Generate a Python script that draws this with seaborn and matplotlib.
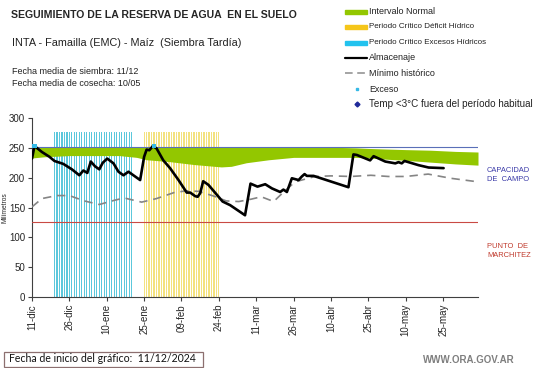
import numpy as np
import matplotlib
matplotlib.use('Agg')
import matplotlib.pyplot as plt
import seaborn as sns
from matplotlib.patches import Rectangle
from matplotlib.lines import Line2D

# days counted from 11-dic-2024
alm_day = [0, 1, 4, 7, 9, 12.6, 16, 19, 20.6, 22.2, 23.6, 25.3, 27, 28.4, 30.2, 32.7,
           34.7, 36.7, 38.7, 40.7, 43.4, 45, 46, 47.1, 48.5, 50, 52.7, 55.4, 58.8,
           62.1, 63.5, 65.5, 66.5, 67.5, 68.7, 70.8, 76.5, 79.5, 85.5, 87.7, 90.5,
           93.6, 96.3, 99.6, 100.9, 102.3, 104.3, 107, 108.3, 109.4, 110.3, 113,
           127, 129, 130.4, 135.7, 137.1, 141.8, 145.8, 147.1, 148.4, 149.5, 155.1,
           159.2, 165.2]
alm_mm = [232, 253, 243, 235, 228, 223, 214, 204, 212, 208, 227, 219, 214, 225, 232, 224,
          210, 204, 210, 204, 196, 235, 247, 246, 253, 249, 229, 216, 196,
          175, 175, 169, 168, 174, 194, 188, 160, 154, 137, 190, 185,
          189, 182, 176, 180, 176, 199, 196, 202, 206, 203, 203,
          184, 239, 238, 229, 236, 227, 224, 226, 224, 228, 221,
          217, 216]

min_day = [0, 4, 10, 15, 21, 27, 33, 37, 41, 44, 50, 57, 62, 67, 73, 78, 83, 88, 92,
           97, 101, 105.6, 113.6, 120, 128, 136, 143, 150, 159, 168, 179]
min_mm = [151, 165, 170, 170, 161, 155, 162, 166, 162, 159, 165, 175, 178, 177, 169, 161,
          160, 164, 168, 160, 176, 193, 202, 203, 202, 204, 202, 202, 206, 199, 193]

band_day = [0, 5, 15, 35, 42, 46, 55, 65, 76, 80, 86, 95, 105, 110, 120, 130, 135, 142,
            150, 160, 170, 179]
band_low = [233, 235, 237, 237, 234, 230, 227, 222, 218, 219, 225, 230, 234, 234, 234,
            234, 233, 231, 229, 226, 223, 221]
band_high = [252, 252, 252, 252, 252, 252, 252, 252, 252, 252, 252, 252, 252, 252, 251,
             250, 249, 248, 247, 246, 244, 243]

exceso_day = [1, 49]
exceso_mm = [253, 253]

blue_period = (9, 40)
yellow_period = (45, 75)
period_top = 276
capacidad = 252
marchitez = 125

tick_days = list(range(0, 166, 15))
tick_labels = ['11-dic', '26-dic', '10-ene', '25-ene', '09-feb', '24-feb', '11-mar',
               '26-mar', '10-abr', '25-abr', '10-may', '25-may']

legend_labels = ['Intervalo Normal', 'Periodo Crítico Déficit Hídrico',
                 'Periodo Crítico Excesos Hídricos', 'Almacenaje', 'Mínimo histórico',
                 'Exceso', 'Temp <3°C fuera del período habitual']
legend_sizes = [6.5, 5.8, 5.8, 6.5, 6.5, 6.4, 7.1]

GREEN = '#93c700'
sns.set_style('ticks')
plt.rcParams['font.family'] = ['Liberation Sans', 'DejaVu Sans']

W, H = 541, 368
fig = plt.figure(figsize=(W / 100, H / 100), dpi=100)
ax = fig.add_axes([32 / W, 71 / H, 446 / W, 179 / H])


def fx(x):
    return x / W


def fy(y):
    return 1 - y / H


# critical periods as daily stripes
bd = np.arange(blue_period[0], blue_period[1] + 1)
ax.bar(bd, [period_top] * len(bd), width=0.5, color='#5cc8dc', lw=0, zorder=1)
yd = np.arange(yellow_period[0], yellow_period[1] + 1)
ax.bar(yd, [period_top] * len(yd), width=0.5, color='#f3e27f', lw=0, zorder=1)

ax.fill_between(band_day, band_low, band_high, color=GREEN, lw=0, zorder=2)
ax.axhline(capacidad, color='#5a6fb8', lw=0.8, zorder=3)
ax.axhline(marchitez, color='#c94a44', lw=0.8, zorder=3)

sns.lineplot(x=min_day, y=min_mm, ax=ax, color='#858585', lw=1.2,
             linestyle=(0, (5, 3.5)), zorder=4)
sns.lineplot(x=alm_day, y=alm_mm, ax=ax, color='black', lw=1.9, zorder=5)
sns.scatterplot(x=exceso_day, y=exceso_mm, ax=ax, marker='s', s=10, color='#35b9e6',
                edgecolor='none', zorder=6)

ax.set_xlim(0, 179)
ax.set_ylim(0, 300)
ax.set_yticks(range(0, 301, 50))
ax.set_xticks(tick_days)
ax.set_xticklabels(tick_labels, rotation=90)
ax.tick_params(labelsize=7, length=3, width=0.8, color='#404040', pad=2)
sns.despine(ax=ax)
for s in ['left', 'bottom']:
    ax.spines[s].set_color('#404040')
    ax.spines[s].set_linewidth(0.8)
ax.set_xlabel('')
ax.set_ylabel('')

fig.text(fx(5), fy(208), 'Milímetros', rotation=90, fontsize=4.8, ha='center', va='center')

# header texts
fig.text(fx(11), fy(15), 'SEGUIMIENTO DE LA RESERVA DE AGUA  EN EL SUELO',
         fontsize=7.6, fontweight='bold', va='center')
fig.text(fx(12), fy(43), 'INTA - Famailla (EMC) - Maíz  (Siembra Tardía)',
         fontsize=7.8, va='center', color='#222222')
fig.text(fx(12), fy(71), 'Fecha media de siembra: 11/12', fontsize=6.5, va='center',
         color='#222222')
fig.text(fx(12), fy(83), 'Fecha media de cosecha: 10/05', fontsize=6.5, va='center',
         color='#222222')

# legend
rows = [12, 27, 43, 58, 73, 89, 104]
for c, r in zip([GREEN, '#f5c61a', '#22c2ee'], rows[:3]):
    fig.patches.append(Rectangle((fx(345), fy(r + 2)), 22 / W, 4 / H, color=c,
                                 transform=fig.transFigure))
fig.lines.append(Line2D([fx(345), fx(367)], [fy(rows[3])] * 2, color='black', lw=1.6,
                        transform=fig.transFigure))
fig.lines.append(Line2D([fx(345), fx(367)], [fy(rows[4])] * 2, color='#8c8c8c', lw=1.1,
                        linestyle=(0, (5, 3)), transform=fig.transFigure))
fig.lines.append(Line2D([fx(357)], [fy(rows[5])], marker='s', ms=2, color='#35b9e6',
                        ls='none', transform=fig.transFigure))
fig.lines.append(Line2D([fx(357)], [fy(rows[6])], marker='D', ms=2.5, color='#1f2a9a',
                        ls='none', transform=fig.transFigure))
for lab, r, fs in zip(legend_labels, rows, legend_sizes):
    fig.text(fx(369), fy(r), lab, fontsize=fs, va='center', color='#222222')

# side labels
fig.text(fx(487), fy(175), 'CAPACIDAD\nDE  CAMPO', fontsize=5.4, color='#3a3aa8',
         va='center', linespacing=1.45)
fig.text(fx(487), fy(251), 'PUNTO  DE\nMARCHITEZ', fontsize=5.4, color='#c0392b',
         va='center', linespacing=1.45)

# footer
fig.patches.append(Rectangle((fx(4), fy(367)), 199 / W, 15 / H, fill=False,
                             edgecolor='#8c6f6f', lw=0.9, transform=fig.transFigure))
fig.text(fx(9), fy(359), 'Fecha de inicio del gráfico:  11/12/2024', fontsize=7.6,
         va='center', family=['Lato', 'DejaVu Sans'], color='#111111')
fig.text(fx(423), fy(360), 'WWW.ORA.GOV.AR', fontsize=7, fontweight='bold',
         va='center', color='#7f7f7f')

fig.savefig('out.png', dpi=100)
